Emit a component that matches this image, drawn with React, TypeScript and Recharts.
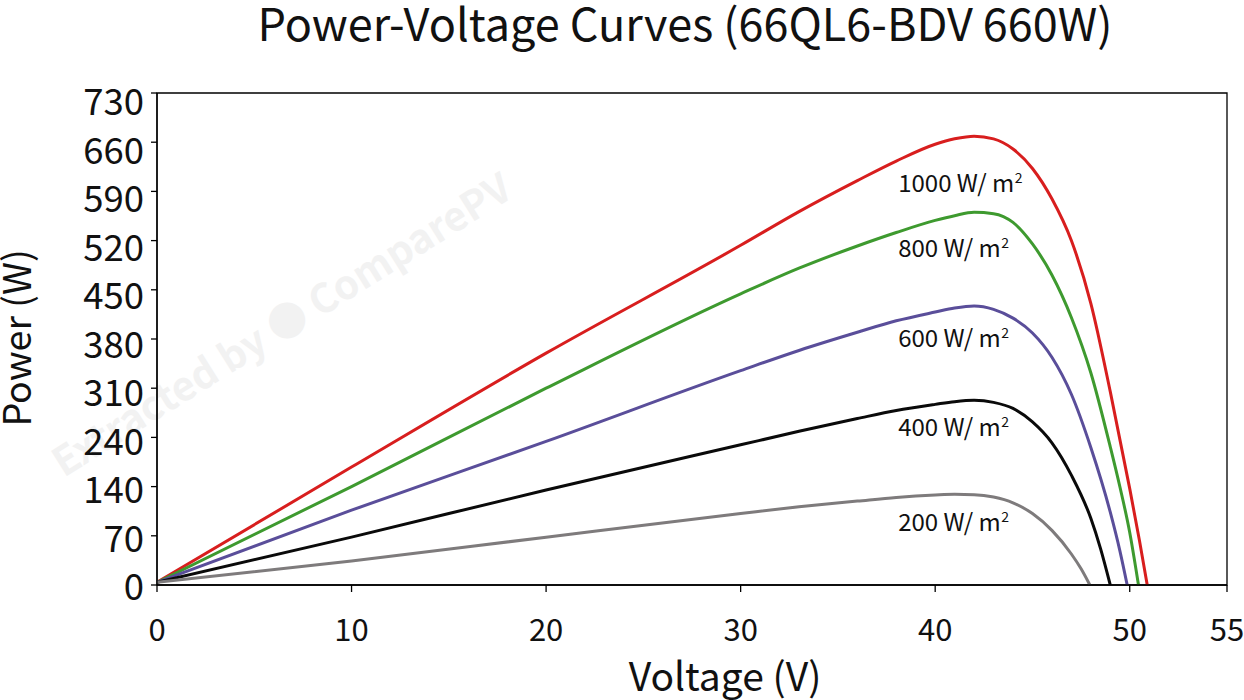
import React from "react";
import { LineChart, Line, XAxis, YAxis, ReferenceArea, ReferenceDot } from "recharts";

const FONT = '"Noto Sans CJK SC", "Noto Sans", sans-serif';

// axis ticks (the y labels are not linear in the source, ticks are evenly spaced)
const xTicks = [0, 10, 20, 30, 40, 50, 55];
const yTicks = [0, 73, 146, 219, 292, 365, 438, 511, 584, 657, 730];
const yTickLabels = ["0", "70", "140", "240", "310", "380", "450", "520", "590", "660", "730"];

// P-V curves (voltage in V, power in W)
const v1000 = [0, 10, 20, 30, 33, 36, 38, 40, 41, 42, 43, 44, 45, 46, 47, 48, 49, 50, 50.5, 50.9];
const p1000 = [4, 175, 344, 504, 554, 600, 629, 654, 662, 666, 662, 647, 618, 573, 511, 418, 287, 143, 66, 0];

const v800 = [0, 10, 20, 30, 33, 36, 38, 40, 41, 42, 43, 44, 45, 46, 47, 48, 49, 49.5, 50, 50.45];
const p800 = [4, 146, 292, 432, 470, 503, 523, 541, 548, 553, 551, 538, 506, 460, 397, 315, 205, 145, 78, 0];

const v600 = [0, 10, 20, 30, 33, 36, 38, 40, 41, 42, 43, 44, 45, 46, 47, 48, 49, 49.5, 49.87];
const p600 = [4, 111, 213, 318, 348, 375, 392, 405, 411, 414, 409, 396, 374, 338, 283, 204, 108, 50, 0];

const v400 = [0, 10, 20, 30, 33, 36, 38, 40, 41, 42, 43, 44, 45, 46, 47, 48, 48.5, 49];
const p400 = [4, 71, 141, 208, 228, 247, 259, 268, 272, 274, 271, 262, 242, 211, 163, 99, 54, 0];

const v200 = [0, 10, 20, 30, 33, 36, 38, 40, 41, 42, 43, 44, 45, 46, 47, 47.5, 47.95];
const p200 = [4, 35.5, 71, 106, 116, 124.5, 130, 133.5, 134.5, 134, 130.5, 122, 106, 81, 46, 24, 0];

const irradiance = ["1000", "800", "600", "400", "200"];
const labelV = 38.1;
const labelP = [583, 487, 353, 221, 80.5];

const curves = [
  { name: irradiance[0], color: "#d81e1e", v: v1000, p: p1000 },
  { name: irradiance[1], color: "#3e9a2f", v: v800, p: p800 },
  { name: irradiance[2], color: "#5a4e9a", v: v600, p: p600 },
  { name: irradiance[3], color: "#0a0a0a", v: v400, p: p400 },
  { name: irradiance[4], color: "#7e7b7c", v: v200, p: p200 },
].map((c) => ({ ...c, data: c.v.map((v, i) => ({ v, p: c.p[i] })) }));

const YTick = (props: any) => {
  const { x, y, payload } = props;
  const i = yTicks.indexOf(payload.value);
  return (
    <text x={x} y={y + 15.3 + i * 0.67} textAnchor="end" fontSize={36.5} fontFamily={FONT} fill="#111">
      {yTickLabels[i]}
    </text>
  );
};

const XTick = (props: any) => {
  const { x, y, payload } = props;
  return (
    <text x={x} y={y + 46.7} textAnchor="middle" fontSize={31} fontFamily={FONT} fill="#111">
      {payload.value}
    </text>
  );
};

const IrrLabel = ({ viewBox, text }: any) => (
  <text x={viewBox.x} y={viewBox.y} fontSize={24} fontFamily={FONT} fill="#111">
    {text} W/ m
    <tspan dx={0.5} dy={-9} fontSize={14}>
      2
    </tspan>
  </text>
);

export default function App() {
  return (
    <div style={{ position: "fixed", left: 0, top: 0, width: 1244, height: 700, background: "#fff" }}>
      <svg width={1244} height={700} style={{ position: "absolute", left: 0, top: 0 }}>
        <text
          x={282}
          y={339}
          transform="rotate(-32 282 325)"
          textAnchor="middle"
          fontSize={40}
          fontWeight={700}
          fontFamily={FONT}
          fill="#f2f2f2"
        >
          Extracted by ● ComparePV
        </text>
      </svg>
      <div style={{ position: "absolute", left: 0, top: 0 }}>
        <LineChart width={1244} height={700} margin={{ top: 93, right: 17, left: 0, bottom: 0 }}>
          <text x={685} y={41} textAnchor="middle" fontSize={45} fontFamily={FONT} fill="#111">
            Power-Voltage Curves (66QL6-BDV 660W)
          </text>
          <text x={725} y={691} textAnchor="middle" fontSize={39} fontFamily={FONT} fill="#111">
            Voltage (V)
          </text>
          <text
            x={31}
            y={338}
            transform="rotate(-90 31 338)"
            textAnchor="middle"
            fontSize={37.5}
            fontFamily={FONT}
            fill="#111"
          >
            Power (W)
          </text>
          <XAxis
            type="number"
            dataKey="v"
            domain={[0, 55]}
            ticks={xTicks}
            interval={0}
            height={115}
            tickSize={7}
            tickMargin={2}
            tick={<XTick />}
            axisLine={{ stroke: "#000", strokeWidth: 1.3 }}
            tickLine={{ stroke: "#000", strokeWidth: 1.3 }}
            allowDataOverflow
          />
          <YAxis
            type="number"
            domain={[0, 730]}
            ticks={yTicks}
            interval={0}
            width={157}
            tickSize={6}
            tickMargin={7}
            tick={<YTick />}
            axisLine={{ stroke: "#000", strokeWidth: 1.3 }}
            tickLine={{ stroke: "#000", strokeWidth: 1.3 }}
            allowDataOverflow
          />
          <ReferenceArea x1={0} x2={55} y1={0} y2={730} fill="none" stroke="#000" strokeWidth={1.3} />
          {curves.map((c) => (
            <Line
              key={c.name}
              data={c.data}
              dataKey="p"
              type="monotone"
              stroke={c.color}
              strokeWidth={3}
              dot={false}
              activeDot={false}
              isAnimationActive={false}
            />
          ))}
          {curves.map((c, i) => (
            <ReferenceDot
              key={"l" + c.name}
              x={labelV}
              y={labelP[i]}
              r={0}
              fill="none"
              stroke="none"
              label={<IrrLabel text={c.name} />}
            />
          ))}
        </LineChart>
      </div>
    </div>
  );
}
